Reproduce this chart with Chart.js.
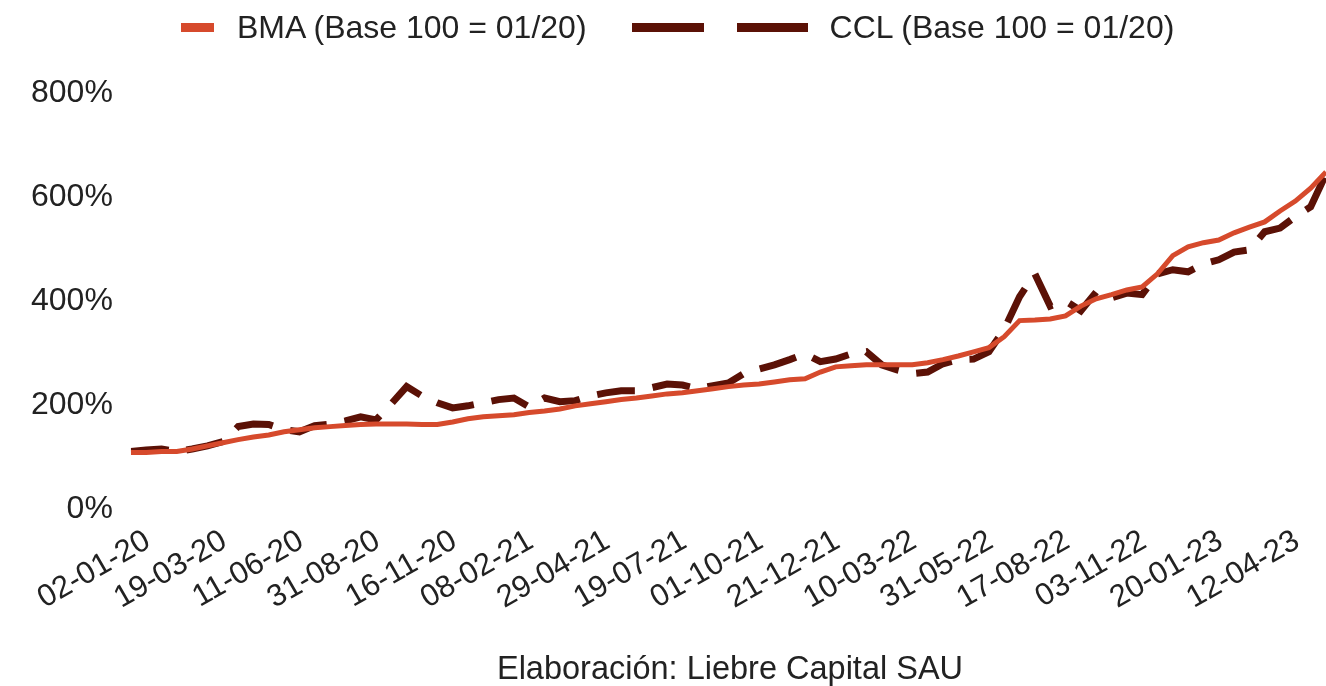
<!DOCTYPE html>
<html lang="es">
<head>
<meta charset="UTF-8">
<title>BMA vs CCL</title>
<script src="https://cdn.jsdelivr.net/npm/chart.js"></script>
<style>
  body { margin: 0; background: #fff; font-family: "Liberation Sans", Arial, sans-serif; color: #222; }
  #wrap { position: relative; width: 1326px; height: 686px; overflow: hidden; }
  #legend { position: absolute; left: 181px; top: 9px; display: flex; align-items: center; font-size: 32px; white-space: nowrap; }
  .sw { display: inline-block; height: 9px; }
  #footer { position: absolute; top: 650px; left: 0; width: 1460px; text-align: center; font-size: 32.5px; }
</style>
</head>
<body>
<div id="wrap">
  <canvas id="chart" width="1326" height="686"></canvas>
  <div id="legend">
    <span class="sw" style="width:33px;background:#d64a2c"></span>
    <span style="margin-left:23px">BMA (Base 100 = 01/20)</span>
    <span class="sw" style="width:72px;background:#5b1106;margin-left:45px"></span>
    <span class="sw" style="width:71px;background:#5b1106;margin-left:33px"></span>
    <span style="margin-left:22px">CCL (Base 100 = 01/20)</span>
  </div>
  <div id="footer">Elaboración: Liebre Capital SAU</div>
</div>

<script>
// date labels shown on the x axis, one every ~52 trading days
const tickLabels = ['02-01-20', '19-03-20', '11-06-20', '31-08-20', '16-11-20', '08-02-21',
  '29-04-21', '19-07-21', '01-10-21', '21-12-21', '10-03-22', '31-05-22',
  '17-08-22', '03-11-22', '20-01-23', '12-04-23'];

// values, 5 samples per label interval
const sampleStep = 0.2;

const bma = [108, 108, 110, 110, 115, 121, 127, 133, 138, 142,
  148, 152, 156, 158, 160, 162, 163, 163, 163, 162,
  162, 167, 173, 177, 179, 181, 185, 188, 192, 198,
  202, 206, 210, 213, 217, 221, 223, 227, 231, 235,
  238, 240, 244, 248, 250, 263, 273, 275, 277, 277,
  277, 277, 281, 287, 294, 302, 310, 331, 362, 363,
  365, 371, 390, 404, 412, 421, 427, 452, 487, 504,
  512, 517, 531, 542, 552, 573, 592, 617, 648];

const ccl = [110, 113, 115, 110, 115, 121, 129, 158, 163, 162,
  152, 148, 160, 163, 169, 177, 171, 202, 235, 217,
  204, 194, 198, 204, 210, 213, 196, 213, 206, 208,
  217, 223, 227, 227, 233, 240, 238, 231, 237, 242,
  260, 269, 277, 287, 298, 283, 288, 298, 302, 277,
  267, 260, 263, 279, 287, 288, 302, 345, 408, 452,
  390, 400, 381, 417, 406, 415, 412, 452, 460, 456,
  471, 479, 494, 498, 533, 540, 562, 581, 644];

const toPoints = arr => arr.map((v, i) => ({ x: i * sampleStep, y: v }));

const fontFamily = '"Liberation Sans", Arial, sans-serif';

new Chart(document.getElementById('chart'), {
  type: 'line',
  data: {
    datasets: [
      {
        label: 'BMA (Base 100 = 01/20)',
        data: toPoints(bma),
        borderColor: '#d64a2c',
        borderWidth: 5,
        pointRadius: 0,
        tension: 0
      },
      {
        label: 'CCL (Base 100 = 01/20)',
        data: toPoints(ccl),
        borderColor: '#5b1106',
        borderWidth: 7,
        borderDash: [38, 18],
        pointRadius: 0,
        tension: 0
      }
    ]
  },
  options: {
    responsive: false,
    animation: false,
    devicePixelRatio: 1,
    layout: { padding: { top: 93, left: 13, right: 0, bottom: 55 } },
    plugins: {
      legend: { display: false },
      tooltip: { enabled: false }
    },
    scales: {
      x: {
        type: 'linear',
        min: 0,
        max: (bma.length - 1) * sampleStep,
        grid: { display: false, drawTicks: false },
        border: { display: false },
        ticks: {
          stepSize: 1,
          includeBounds: false,
          autoSkip: false,
          minRotation: 30,
          maxRotation: 30,
          labelOffset: 17,
          padding: 14,
          color: '#222',
          font: { family: fontFamily, size: 31 },
          callback: v => tickLabels[v] ?? ''
        }
      },
      y: {
        min: 0,
        max: 800,
        grid: { display: false, drawTicks: false },
        border: { display: false },
        ticks: {
          stepSize: 200,
          padding: 18,
          color: '#222',
          font: { family: fontFamily, size: 32 },
          callback: v => v + '%'
        }
      }
    }
  }
});
</script>
</body>
</html>
